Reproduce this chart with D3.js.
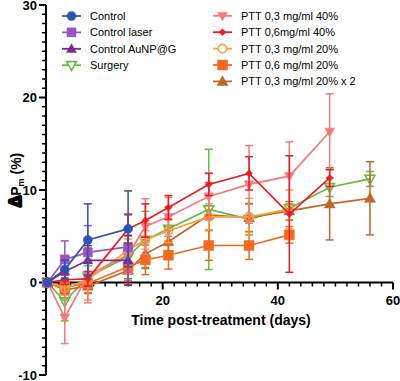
<!DOCTYPE html>
<html>
<head>
<meta charset="utf-8">
<script src="https://cdn.jsdelivr.net/npm/d3@7"></script>
<style>
  body { margin: 0; background: #fff; }
  svg { font-family: "Liberation Sans", Arial, sans-serif; }
</style>
</head>
<body>
<svg id="chart" width="400" height="381"></svg>
<script>
// time points (days)
const days = [0, 3, 7, 14, 17, 21, 28, 35, 42, 49, 56];

// mean values (aligned with days, shorter = fewer points)
const controlVals   = [0, 1.4, 4.6, 5.8];
const controlErr    = [0, 1.0, 3.9, 4.1];
const laserVals     = [0, 2.5, 3.25, 3.85];
const laserErr      = [0, 2.0, 2.9, 3.45];
const aunpVals      = [0, 1.2, 2.4, 2.4];
const aunpErr       = [0, 1.0, 1.6, 2.7];
const surgeryVals   = [0, -2.05, 0.6, 2.8, 4.6, 5.8, 7.9, 6.85, 8.0, 10.3, 11.2];
const surgeryErr    = [0, 2.1, 1.2, 1.5, 3.1, 2.4, 6.5, 1.7, 0.5, 1.0, 0.8];
const ptt03_40Vals  = [0, -3.8, 0.8, 3.0, 6.05, 7.1, 9.3, 10.6, 11.5, 16.3];
const ptt03_40Err   = [0, 2.8, 3.0, 2.0, 3.0, 2.1, 2.5, 4.2, 3.7, 4.1];
const ptt06_40Vals  = [0, 0.3, 0.4, 5.8, 6.7, 8.1, 10.6, 11.8, 7.4, 11.3];
const ptt06_40Err   = [0, 0.5, 0.8, 1.6, 1.8, 1.3, 1.2, 1.8, 6.3, 0.9];
const ptt03_20Vals  = [0, -0.6, 0.3, 3.5, 4.6, 5.6, 7.1, 7.1, 7.9];
const ptt03_20Err   = [0, 0.8, 2.2, 1.2, 1.0, 1.3, 1.4, 2.0, 2.1];
const ptt06_20Vals  = [0, -0.5, -0.1, 1.7, 2.45, 2.95, 4.0, 4.0, 5.15];
const ptt06_20Err   = [0, 0.8, 1.0, 1.5, 1.6, 1.5, 1.6, 1.5, 0.9];
const ptt03_20x2Vals = [0, -0.8, -0.4, 1.3, 3.1, 4.4, 7.3, 7.0, 7.75, 8.5, 9.1];
const ptt03_20x2Err  = [0, 0.5, 0.8, 1.5, 1.5, 1.6, 3.5, 1.5, 1.0, 3.9, 3.95];

const xTicks = [20, 40, 60];
const yTicks = [-10, 0, 10, 20, 30];

const series = [
  { name: "Control", vals: controlVals, err: controlErr, color: "#2f52b4", shape: "circle", fill: true, size: 4.5 },
  { name: "Control laser", vals: laserVals, err: laserErr, color: "#9a55be", shape: "square", fill: true, size: 4.5 },
  { name: "Control AuNP@G", vals: aunpVals, err: aunpErr, color: "#7b2a8c", shape: "triangle", fill: true, size: 4.5 },
  { name: "Surgery", vals: surgeryVals, err: surgeryErr, color: "#66bb44", shape: "tridown", fill: false, size: 4.5 },
  { name: "PTT 0,3 mg/ml 40%", vals: ptt03_40Vals, err: ptt03_40Err, color: "#f47a7a", shape: "tridown", fill: true, size: 4.5 },
  { name: "PTT 0,6mg/ml 40%", vals: ptt06_40Vals, err: ptt06_40Err, color: "#ec1c24", shape: "diamond", fill: true, size: 3.5 },
  { name: "PTT 0,3 mg/ml 20%", vals: ptt03_20Vals, err: ptt03_20Err, color: "#f8a040", shape: "circle", fill: false, size: 4.2 },
  { name: "PTT 0,6 mg/ml 20%", vals: ptt06_20Vals, err: ptt06_20Err, color: "#f26a22", shape: "square", fill: true, size: 5 },
  { name: "PTT 0,3 mg/ml 20% x 2", vals: ptt03_20x2Vals, err: ptt03_20x2Err, color: "#c0672b", shape: "triangle", fill: true, size: 5 }
];

// draw order (back to front)
const drawOrder = [3, 8, 7, 6, 4, 2, 1, 5, 0];

const svg = d3.select("#chart");

const x = d3.scaleLinear().domain([0, 60]).range([47.5, 393]);
const y = d3.scaleLinear().domain([-10, 30]).range([375, 5]);

function markerPath(shape, s) {
  if (shape === "circle") return d3.symbol(d3.symbolCircle, Math.PI * s * s)();
  if (shape === "square") return `M${-s},${-s}H${s}V${s}H${-s}Z`;
  if (shape === "triangle") return `M0,${-s * 1.15}L${s * 1.1},${s * 0.8}L${-s * 1.1},${s * 0.8}Z`;
  if (shape === "tridown") return `M0,${s * 1.15}L${s * 1.1},${-s * 0.8}L${-s * 1.1},${-s * 0.8}Z`;
  if (shape === "diamond") return `M0,${-s}L${s},0L0,${s}L${-s},0Z`;
}

// ---- axes
const axisX0 = 46;
const yAxisG = svg.append("g").attr("transform", `translate(${axisX0},0)`);
yAxisG.append("line")
  .attr("y1", y(30)).attr("y2", y(-10))
  .attr("stroke", "#000").attr("stroke-width", 2);
yAxisG.selectAll(".minor")
  .data(d3.range(-10, 31, 1).filter(v => v % 10 !== 0))
  .enter().append("line")
  .attr("x1", -4).attr("x2", 0)
  .attr("y1", d => y(d)).attr("y2", d => y(d))
  .attr("stroke", "#000").attr("stroke-width", 1.5);
yAxisG.selectAll(".major")
  .data(yTicks)
  .enter().append("line")
  .attr("x1", -7).attr("x2", 0)
  .attr("y1", d => y(d)).attr("y2", d => y(d))
  .attr("stroke", "#000").attr("stroke-width", 2);
yAxisG.selectAll(".lab")
  .data(yTicks)
  .enter().append("text")
  .attr("x", -9).attr("y", d => y(d))
  .attr("dy", "0.36em")
  .attr("text-anchor", "end")
  .style("font-size", "13px").style("font-weight", "bold")
  .text(d => d);

const xAxisG = svg.append("g").attr("transform", `translate(0,${y(0)})`);
xAxisG.append("line")
  .attr("x1", axisX0).attr("x2", x(60))
  .attr("stroke", "#000").attr("stroke-width", 2);
xAxisG.selectAll(".minor")
  .data(d3.range(2, 61, 2).filter(v => v % 20 !== 0))
  .enter().append("line")
  .attr("x1", d => x(d)).attr("x2", d => x(d))
  .attr("y1", 0).attr("y2", 4)
  .attr("stroke", "#000").attr("stroke-width", 1.5);
xAxisG.selectAll(".major")
  .data(xTicks)
  .enter().append("line")
  .attr("x1", d => x(d)).attr("x2", d => x(d))
  .attr("y1", 0).attr("y2", 7)
  .attr("stroke", "#000").attr("stroke-width", 2);
xAxisG.selectAll(".lab")
  .data(xTicks)
  .enter().append("text")
  .attr("x", d => x(d)).attr("y", 22)
  .attr("text-anchor", "middle")
  .style("font-size", "13px").style("font-weight", "bold")
  .text(d => d);

// axis titles
svg.append("text")
  .attr("x", 221).attr("y", 325)
  .attr("text-anchor", "middle")
  .style("font-size", "14px").style("font-weight", "bold")
  .text("Time post-treatment (days)");

const yTitle = svg.append("text")
  .attr("transform", "translate(21,180) rotate(-90)")
  .attr("text-anchor", "middle")
  .style("font-size", "14px").style("font-weight", "bold");
yTitle.append("tspan").style("font-size", "16px").style("font-weight", "900")
  .attr("stroke", "#000").attr("stroke-width", 2.2).attr("stroke-linejoin", "round")
  .text("Δ");
yTitle.append("tspan").text("P");
yTitle.append("tspan").attr("dy", 3).style("font-size", "9px").text("m");
yTitle.append("tspan").attr("dy", -3).text(" (%)");

// ---- series
const plot = svg.append("g");
drawOrder.forEach(i => {
  const s = series[i];
  const pts = s.vals.map((v, k) => ({ d: days[k], v: v, e: s.err[k] }));
  const g = plot.append("g");

  // error bars
  const eb = g.selectAll(".eb").data(pts.filter(p => p.e > 0)).enter().append("g");
  eb.append("line")
    .attr("x1", p => x(p.d)).attr("x2", p => x(p.d))
    .attr("y1", p => y(p.v - p.e)).attr("y2", p => y(p.v + p.e))
    .attr("stroke", s.color).attr("stroke-width", 1.5);
  [-1, 1].forEach(sign => {
    eb.append("line")
      .attr("x1", p => x(p.d) - 4).attr("x2", p => x(p.d) + 4)
      .attr("y1", p => y(p.v + sign * p.e)).attr("y2", p => y(p.v + sign * p.e))
      .attr("stroke", s.color).attr("stroke-width", 1.5);
  });

  g.append("path")
    .datum(pts)
    .attr("d", d3.line().x(p => x(p.d)).y(p => y(p.v)))
    .attr("fill", "none")
    .attr("stroke", s.color).attr("stroke-width", 1.7);

  g.selectAll(".mk").data(pts).enter().append("path")
    .attr("transform", p => `translate(${x(p.d)},${y(p.v)})`)
    .attr("d", markerPath(s.shape, s.size))
    .attr("fill", s.fill ? s.color : "none")
    .attr("stroke", s.color)
    .attr("stroke-width", s.fill ? 0.5 : 1.6);
});

// ---- legend
const legLeft = series.slice(0, 4);
const legRight = series.slice(4);
function drawLegend(items, x0, y0) {
  const lg = svg.append("g").attr("transform", `translate(${x0},${y0})`);
  const row = lg.selectAll("g").data(items).enter().append("g")
    .attr("transform", (d, i) => `translate(0,${i * 16.4})`);
  row.append("line")
    .attr("x1", 0).attr("x2", 19)
    .attr("stroke", d => d.color).attr("stroke-width", 1.8);
  row.append("path")
    .attr("transform", "translate(9.5,0)")
    .attr("d", d => markerPath(d.shape, d.size))
    .attr("fill", d => d.fill ? d.color : "#fff")
    .attr("stroke", d => d.color)
    .attr("stroke-width", d => d.fill ? 0.5 : 1.6);
  row.append("text")
    .attr("x", 28).attr("dy", "0.36em")
    .style("font-size", "11px")
    .text(d => d.name);
}
drawLegend(legLeft, 62, 16);
drawLegend(legRight, 213, 15.8);
</script>
</body>
</html>
